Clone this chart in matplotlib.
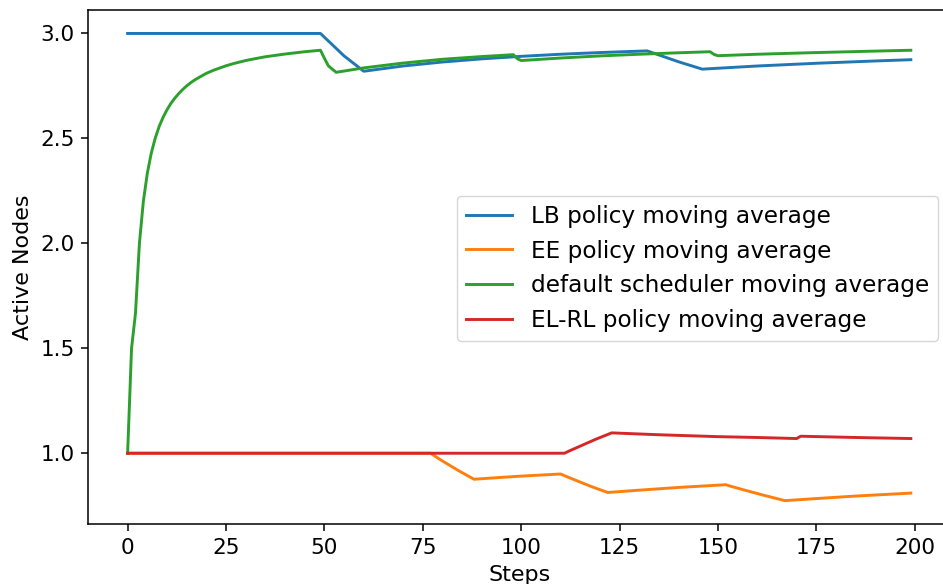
import matplotlib
matplotlib.use("Agg")
import matplotlib.pyplot as plt

# moving averages of active node count per scheduling policy
lb_steps = [0, 49, 55, 60, 70, 80, 90, 100, 110, 120, 132, 140, 146, 160, 175, 190, 199]
lb_avg = [3.0, 3.0, 2.893, 2.820, 2.845, 2.864, 2.879, 2.891, 2.901, 2.909, 2.917,
          2.865, 2.830, 2.845, 2.858, 2.869, 2.875]

ee_steps = [0, 77, 78, 80, 84, 88, 95, 100, 105, 110, 111, 114, 118, 122, 130, 140,
            152, 153, 157, 162, 167, 175, 185, 199]
ee_avg = [1.0, 1.0, 0.987, 0.963, 0.918, 0.876, 0.885, 0.891, 0.896, 0.901, 0.893,
          0.870, 0.840, 0.813, 0.824, 0.837, 0.850, 0.844, 0.823, 0.798, 0.774,
          0.784, 0.796, 0.810]

default_steps = [0, 1, 2, 3, 4, 5, 6, 7, 8, 9, 10, 11, 12, 13, 14, 15, 16, 17, 18, 20,
                 22, 25, 27, 30, 33, 35, 40, 45, 49,
                 50, 51, 52, 53, 60, 70, 80, 90, 98, 99, 100, 110, 120, 130, 140,
                 148, 149, 150, 160, 175, 190, 199]
default_avg = [1.0, 1.5, 1.667, 2.0, 2.2, 2.333, 2.429, 2.5, 2.556, 2.6, 2.636, 2.667,
               2.692, 2.714, 2.733, 2.75, 2.765, 2.778, 2.789, 2.810, 2.826, 2.846,
               2.857, 2.871, 2.882, 2.889, 2.902, 2.913, 2.92,
               2.882, 2.846, 2.830, 2.815, 2.836, 2.859, 2.877, 2.890, 2.899, 2.88,
               2.871, 2.883, 2.893, 2.901, 2.908, 2.913, 2.90, 2.894, 2.901, 2.909,
               2.916, 2.92]

elrl_steps = [0, 111, 112, 115, 119, 123, 135, 150, 160, 170, 171, 185, 199]
elrl_avg = [1.0, 1.0, 1.009, 1.034, 1.067, 1.097, 1.088, 1.079, 1.075, 1.070, 1.081,
            1.075, 1.070]

plt.rcParams.update({
    'font.size': 16,
    'axes.labelsize': 16,
    'xtick.labelsize': 15.5,
    'ytick.labelsize': 15.5,
    'axes.linewidth': 1.1,
    'xtick.major.size': 4.9,
    'ytick.major.size': 4.9,
    'xtick.major.width': 1.1,
    'ytick.major.width': 1.1,
    'xtick.major.pad': 4.9,
    'ytick.major.pad': 4.9,
    'axes.labelpad': 5.6,
})

fig = plt.figure(figsize=(9.43, 5.84), dpi=100)
ax = fig.add_axes([0.0938, 0.1027, 0.9136, 0.880])

lw = 2.1
ax.plot(lb_steps, lb_avg, color='#1f77b4', lw=lw, label='LB policy moving average')
ax.plot(ee_steps, ee_avg, color='#ff7f0e', lw=lw, label='EE policy moving average')
ax.plot(default_steps, default_avg, color='#2ca02c', lw=lw,
        label='default scheduler moving average')
ax.plot(elrl_steps, elrl_avg, color='#d62728', lw=lw, label='EL-RL policy moving average')

ax.set_xlabel('Steps')
ax.set_ylabel('Active Nodes')
ax.set_xticks([0, 25, 50, 75, 100, 125, 150, 175, 200])

ax.legend(loc='upper left', bbox_to_anchor=(0.4843, 0.6649),
          bbox_transform=fig.transFigure, borderaxespad=0, fontsize=16.7)

fig.savefig('out.png', dpi=100)
